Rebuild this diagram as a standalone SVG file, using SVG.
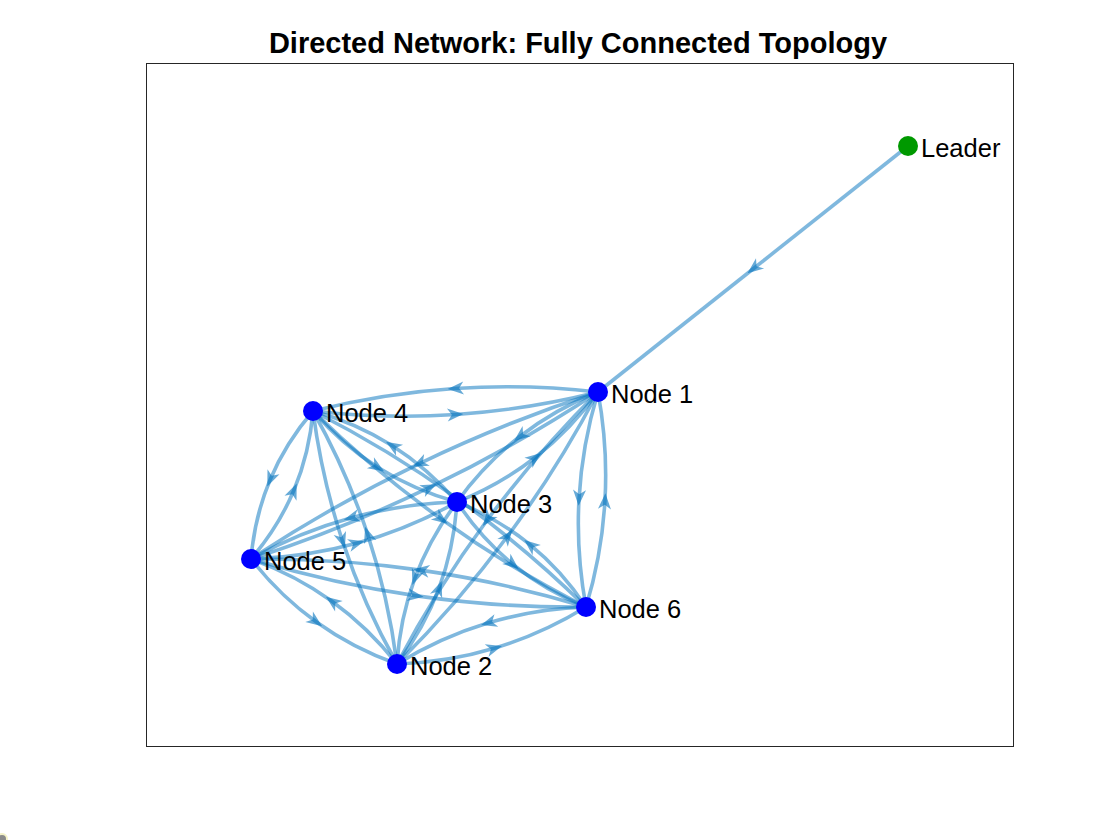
<svg xmlns="http://www.w3.org/2000/svg" width="1120" height="840" viewBox="0 0 1120 840">
<style>
.e{fill:none;stroke:#0072BD;stroke-opacity:0.5;stroke-width:3.6;marker-mid:url(#arr)}
.n{fill:#0000FF}
.ld{fill:#009900}
.lb{font-family:"Liberation Sans",Arial,sans-serif;font-size:25.5px;fill:#000}
.t{font-family:"Liberation Sans",Arial,sans-serif;font-size:29px;font-weight:bold;fill:#000}
</style>
<defs>
<marker id="arr" markerUnits="userSpaceOnUse" orient="auto" markerWidth="24" markerHeight="24" refX="0" refY="0" viewBox="-12 -12 24 24" overflow="visible">
<path d="M7,0 L-9,-6.5 L-4.5,0 L-9,6.5 Z" fill="#0072BD" fill-opacity="0.6"/>
</marker>
</defs>
<rect width="1120" height="840" fill="#ffffff"/>
<rect x="146.5" y="63.5" width="867" height="683" fill="#ffffff" stroke="#262626" stroke-width="1"/>
<text class="t" x="578" y="53" text-anchor="middle">Directed Network: Fully Connected Topology</text>
<g id="connectors">
<path class="e" d="M908,146 L753,269 L598,392"/>
<path class="e" d="M598,392 Q537.3,452.3 487.05,520.27 Q436.8,588.3 397,664"/>
<path class="e" d="M397,664 Q457.7,603.7 507.95,535.73 Q558.2,467.7 598,392"/>
<path class="e" d="M598,392 Q554.75,409.25 519.5,436.75 Q484.25,464.25 457,502"/>
<path class="e" d="M457,502 Q500.25,484.75 535.5,457.25 Q570.75,429.75 598,392"/>
<path class="e" d="M598,392 Q525.9,383.8 454.64,388.53 Q383.4,393.3 313,411"/>
<path class="e" d="M313,411 Q385.1,419.2 456.36,414.47 Q527.6,409.7 598,392"/>
<path class="e" d="M598,392 Q505.6,422 418.86,463.79 Q332.1,505.5 251,559"/>
<path class="e" d="M251,559 Q343.4,529 430.14,487.21 Q516.9,445.5 598,392"/>
<path class="e" d="M598,392 Q582,445 579.02,498.78 Q576,552.5 586,607"/>
<path class="e" d="M586,607 Q602,554 604.98,500.22 Q608,446.5 598,392"/>
<path class="e" d="M397,664 Q424.2,628 439.19,587.51 Q454.2,547 457,502"/>
<path class="e" d="M457,502 Q429.8,538 414.81,578.49 Q399.8,619 397,664"/>
<path class="e" d="M397,664 Q388.3,596.7 367.34,533.4 Q346.3,470.2 313,411"/>
<path class="e" d="M313,411 Q321.7,478.3 342.66,541.6 Q363.7,604.8 397,664"/>
<path class="e" d="M397,664 Q368.1,627.2 331.59,600.94 Q295.1,574.7 251,559"/>
<path class="e" d="M251,559 Q279.9,595.8 316.41,622.06 Q352.9,648.3 397,664"/>
<path class="e" d="M397,664 Q448,662.2 495.25,647.95 Q542.5,633.7 586,607"/>
<path class="e" d="M586,607 Q535,608.8 487.75,623.05 Q440.5,637.3 397,664"/>
<path class="e" d="M457,502 Q427.9,468.3 391.95,445.51 Q355.9,422.8 313,411"/>
<path class="e" d="M313,411 Q342.1,444.7 378.05,467.49 Q414.1,490.2 457,502"/>
<path class="e" d="M457,502 Q402,503.7 350.53,517.97 Q299,532.2 251,559"/>
<path class="e" d="M251,559 Q306,557.3 357.47,543.03 Q409,528.8 457,502"/>
<path class="e" d="M457,502 Q481,538.3 513.29,564.58 Q545.5,590.8 586,607"/>
<path class="e" d="M586,607 Q562,570.7 529.71,544.42 Q497.5,518.2 457,502"/>
<path class="e" d="M313,411 Q285.5,443 270.01,479.98 Q254.5,517 251,559"/>
<path class="e" d="M251,559 Q278.5,527 293.99,490.02 Q309.5,453 313,411"/>
<path class="e" d="M313,411 Q373.7,470.6 441.92,519.56 Q510.2,568.6 586,607"/>
<path class="e" d="M586,607 Q525.3,547.4 457.08,498.44 Q388.8,449.4 313,411"/>
<path class="e" d="M251,559 Q332.9,583.9 416.66,595.87 Q500.4,607.9 586,607"/>
<path class="e" d="M586,607 Q504.1,582.1 420.34,570.13 Q336.6,558.1 251,559"/>
</g>
<g id="node-leader"><circle class="ld" cx="908" cy="146" r="10"/><text class="lb" x="921" y="157">Leader</text></g>
<g id="node-1"><circle class="n" cx="598" cy="392" r="10"/><text class="lb" x="611" y="403">Node 1</text></g>
<g id="node-2"><circle class="n" cx="397" cy="664" r="10"/><text class="lb" x="410" y="675">Node 2</text></g>
<g id="node-3"><circle class="n" cx="457" cy="502" r="10"/><text class="lb" x="470" y="513">Node 3</text></g>
<g id="node-4"><circle class="n" cx="313" cy="411" r="10"/><text class="lb" x="326" y="422">Node 4</text></g>
<g id="node-5"><circle class="n" cx="251" cy="559" r="10"/><text class="lb" x="264" y="570">Node 5</text></g>
<g id="node-6"><circle class="n" cx="586" cy="607" r="10"/><text class="lb" x="599" y="618">Node 6</text></g>
<circle cx="2" cy="839" r="5" fill="#8a8a8a" stroke="#f4f2c8" stroke-width="2"/>
</svg>
